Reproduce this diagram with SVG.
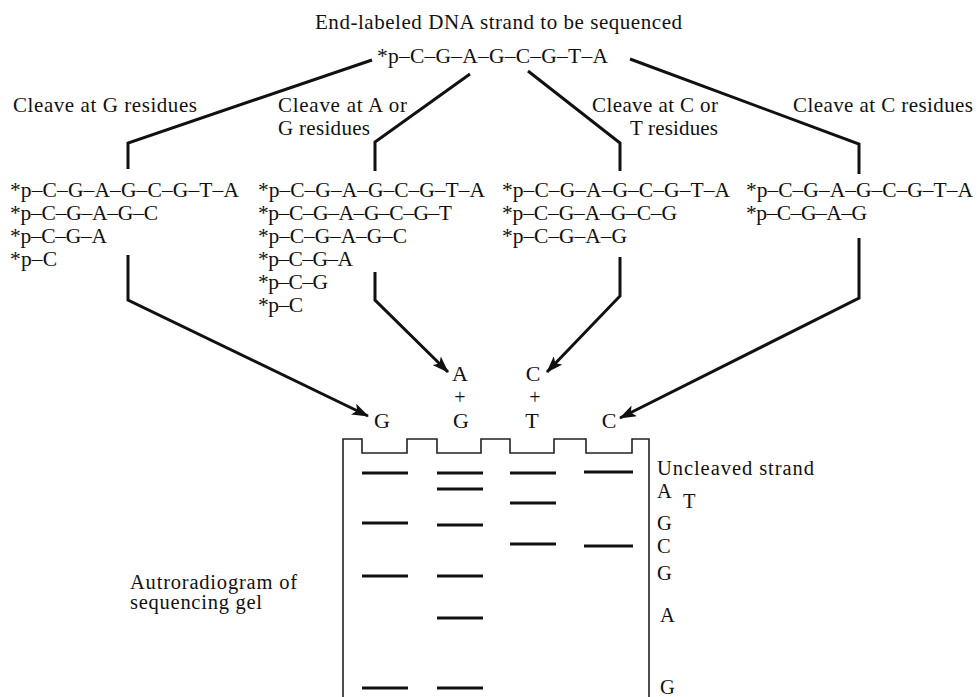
<svg xmlns="http://www.w3.org/2000/svg" width="977" height="697" viewBox="0 0 977 697">
<style>
text{font-family:"Liberation Serif","Times New Roman",serif;fill:#111}
.t{font-size:21px}
.s{font-size:21.5px}
.l{font-size:21px}
.n{font-size:22px;text-anchor:middle}
.p{font-size:20px;text-anchor:middle}
.r{font-size:20.5px}
.c{fill:none;stroke:#111;stroke-width:3;stroke-linejoin:miter}
.g{fill:none;stroke:#222;stroke-width:1.6}
.b{stroke:#111;stroke-width:3}
</style>
<defs>
<marker id="ah" markerUnits="userSpaceOnUse" markerWidth="18" markerHeight="12" refX="16" refY="6" orient="auto">
<path d="M0,0 L17,6 L0,12 L4,6 Z" fill="#111"/>
</marker>
</defs>
<g id="title"><text class="t" x="315" y="29" textLength="367">End-labeled DNA strand to be sequenced</text></g>
<g id="strand"><text class="s" x="377" y="63" textLength="231">*p–C–G–A–G–C–G–T–A</text></g>
<g id="label-g"><text class="l" x="13" y="112" textLength="184">Cleave at G residues</text></g>
<g id="label-ag"><text class="l" x="278" y="112" textLength="129">Cleave at A or</text><text class="l" x="278" y="135" textLength="92">G residues</text></g>
<g id="label-ct"><text class="l" x="592" y="112" textLength="126">Cleave at C or</text><text class="l" x="630" y="135" textLength="88">T residues</text></g>
<g id="label-c"><text class="l" x="793" y="112" textLength="180">Cleave at C residues</text></g>
<g id="frag-g">
<text class="s" x="10" y="197" textLength="229">*p–C–G–A–G–C–G–T–A</text>
<text class="s" x="10" y="220" textLength="148">*p–C–G–A–G–C</text>
<text class="s" x="10" y="243" textLength="97">*p–C–G–A</text>
<text class="s" x="10" y="266" textLength="47">*p–C</text>
</g>
<g id="frag-ag">
<text class="s" x="258" y="197" textLength="227">*p–C–G–A–G–C–G–T–A</text>
<text class="s" x="258" y="220" textLength="194">*p–C–G–A–G–C–G–T</text>
<text class="s" x="258" y="243" textLength="149">*p–C–G–A–G–C</text>
<text class="s" x="258" y="266" textLength="95">*p–C–G–A</text>
<text class="s" x="258" y="289" textLength="70">*p–C–G</text>
<text class="s" x="258" y="312" textLength="45">*p–C</text>
</g>
<g id="frag-ct">
<text class="s" x="502" y="197" textLength="228">*p–C–G–A–G–C–G–T–A</text>
<text class="s" x="502" y="220" textLength="175">*p–C–G–A–G–C–G</text>
<text class="s" x="502" y="243" textLength="125">*p–C–G–A–G</text>
</g>
<g id="frag-c">
<text class="s" x="746" y="197" textLength="227">*p–C–G–A–G–C–G–T–A</text>
<text class="s" x="746" y="220" textLength="121">*p–C–G–A–G</text>
</g>
<g id="connectors">
<polyline class="c" points="372,60 128,143 128,169"/>
<polyline class="c" points="470,74 375,142 375,171"/>
<polyline class="c" points="528,71 620,143 620,171"/>
<polyline class="c" points="630,59 859,144 859,174"/>
<polyline class="c" points="128,255 128,300 368,416" marker-end="url(#ah)"/>
<polyline class="c" points="375,272 375,300 448,372" marker-end="url(#ah)"/>
<polyline class="c" points="620,257 620,296 547,372" marker-end="url(#ah)"/>
<polyline class="c" points="859,238 859,298 620,418" marker-end="url(#ah)"/>
</g>
<g id="lane-labels">
<text class="n" x="382" y="428">G</text>
<text class="n" x="460" y="381">A</text>
<text class="p" x="460" y="404">+</text>
<text class="n" x="461" y="428">G</text>
<text class="n" x="533" y="381">C</text>
<text class="p" x="535" y="404">+</text>
<text class="n" x="532" y="428">T</text>
<text class="n" x="609" y="428">C</text>
</g>
<g id="gel">
<path class="g" d="M343,697 V439 H362 V453 H407 V439 H437 V453 H481 V439 H510 V453 H554 V439 H586 V453 H632 V439 H649 V697"/>
<line class="b" x1="362" y1="473" x2="408" y2="473"/>
<line class="b" x1="362" y1="523" x2="408" y2="523"/>
<line class="b" x1="362" y1="576" x2="408" y2="576"/>
<line class="b" x1="362" y1="688" x2="408" y2="688"/>
<line class="b" x1="437" y1="473" x2="483" y2="473"/>
<line class="b" x1="437" y1="489" x2="483" y2="489"/>
<line class="b" x1="437" y1="525" x2="483" y2="525"/>
<line class="b" x1="437" y1="576" x2="483" y2="576"/>
<line class="b" x1="437" y1="618" x2="483" y2="618"/>
<line class="b" x1="437" y1="688" x2="483" y2="688"/>
<line class="b" x1="510" y1="473" x2="556" y2="473"/>
<line class="b" x1="510" y1="503" x2="556" y2="503"/>
<line class="b" x1="510" y1="544" x2="556" y2="544"/>
<line class="b" x1="584" y1="472" x2="633" y2="472"/>
<line class="b" x1="584" y1="546" x2="633" y2="546"/>
</g>
<g id="gel-labels">
<text class="r" x="657" y="475" textLength="157">Uncleaved strand</text>
<text class="r" x="657" y="498">A</text>
<text class="r" x="683" y="508">T</text>
<text class="r" x="657" y="530">G</text>
<text class="r" x="657" y="553">C</text>
<text class="r" x="657" y="580">G</text>
<text class="r" x="660" y="622">A</text>
<text class="r" x="660" y="694">G</text>
</g>
<g id="caption">
<text class="r" x="130" y="589" textLength="167">Autroradiogram of</text>
<text class="r" x="130" y="609" textLength="132">sequencing gel</text>
</g>
</svg>
